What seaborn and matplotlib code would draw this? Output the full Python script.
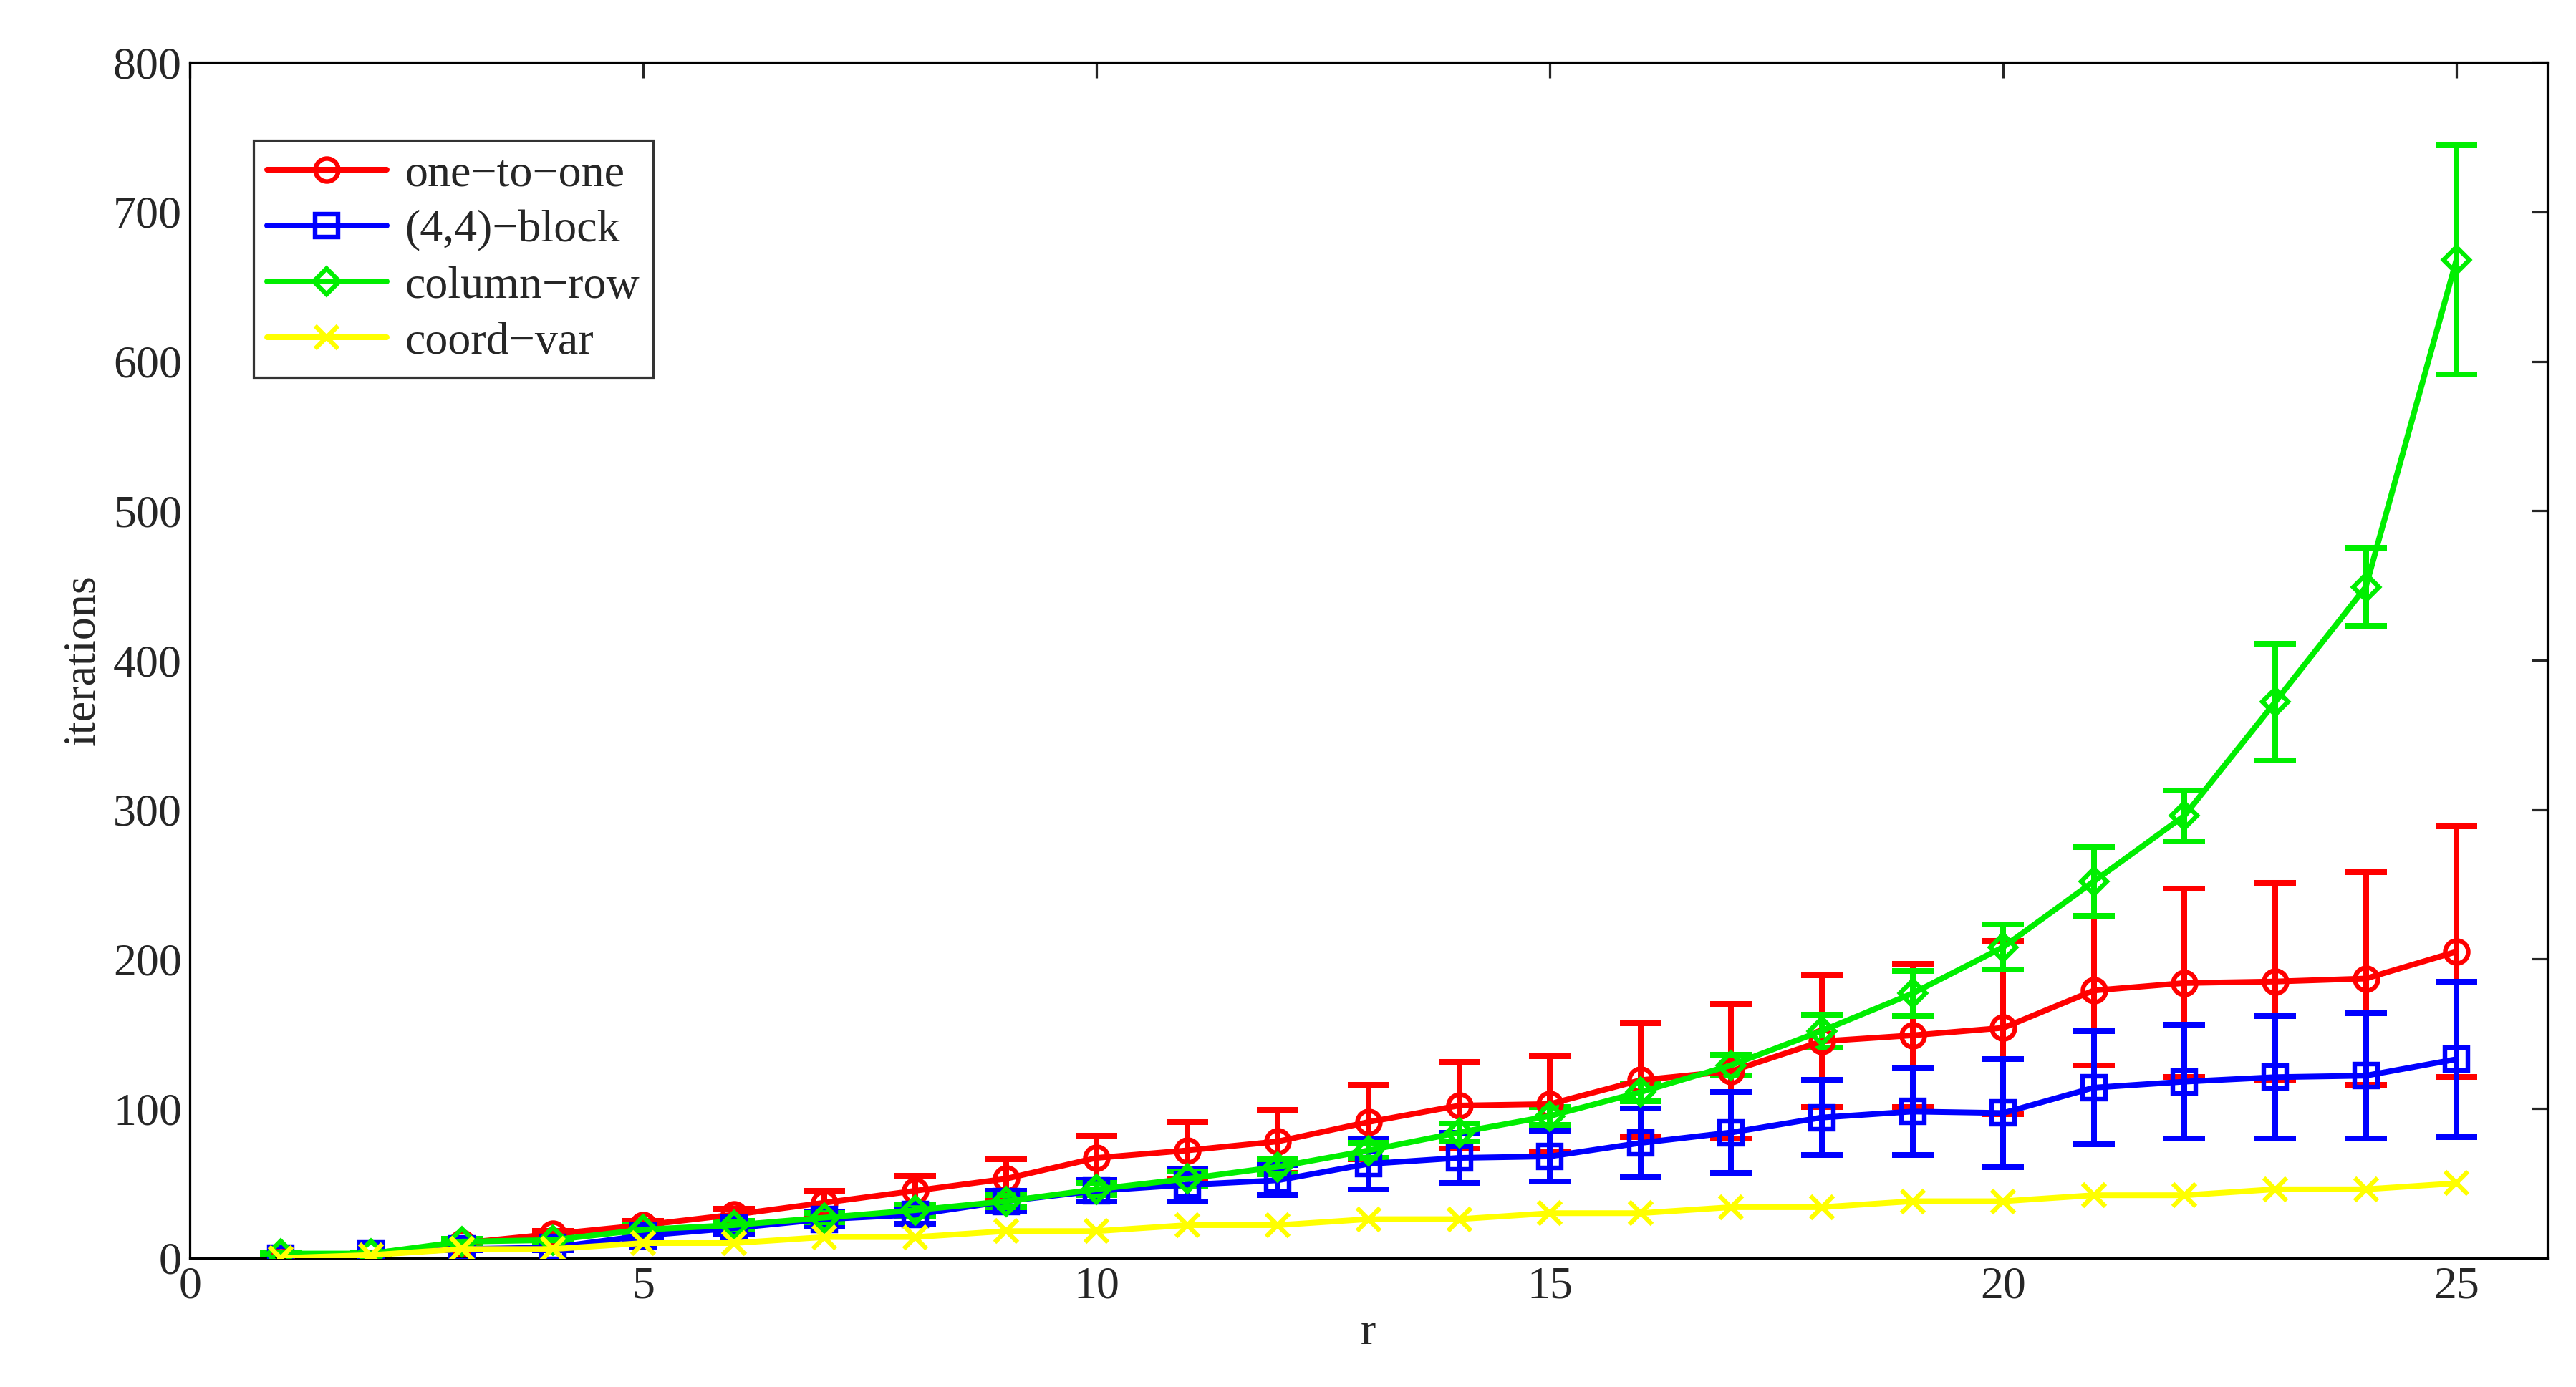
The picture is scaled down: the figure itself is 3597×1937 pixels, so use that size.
import matplotlib
matplotlib.use("Agg")
import matplotlib.pyplot as plt
import seaborn as sns
import numpy as np
import pandas as pd

r = list(range(1, 26))
one_to_one = [0,3,10,16,22,29,37,45,53,67,72,78,91,102,103,119,125,145,149,154,179,184,185,187,205]
one_err = [0,1,2,2,3,4,8,10,13,15,19,21,25,29,32,38,45,44,48,58,50,63,66,71,84]
block = [0,3,6,7,15,20,26,29,38,45,49,52,63,67,68,77,84,94,98,97,114,118,121,122,133]
block_err = [0,1,1,2,3,4,5,6,7,7,11,10,17,17,17,23,27,25,29,36,38,38,41,42,52]
colrow = [3,3,11,12,19,22,27,32,38,46,53,61,72,84,95,111,129,152,177,208,252,296,372,449,668]
colrow_err = [1,1,2,2,3,3,3,4,4,4,5,5,5,6,6,6,7,11,15,15,23,17,39,26,77]
coordvar = [0,2,6,6,10,10,14,14,18,18,22,22,26,26,30,30,34,34,38,38,42,42,46,46,50]

sns.set_style("white")
plt.rcParams['font.family'] = ['Liberation Serif', 'DejaVu Serif']
plt.rcParams['axes.unicode_minus'] = True

fig = plt.figure(figsize=(15.6, 8.4), dpi=230.6)
ax = fig.add_axes([0.0737, 0.093, 0.915, 0.862])

series = [
    ("one\u2212to\u2212one", one_to_one, one_err, "#ff0000", "o"),
    ("(4,4)\u2212block", block, block_err, "#0000ff", "s"),
    ("column\u2212row", colrow, colrow_err, "#00ee00", "D"),
    ("coord\u2212var", coordvar, None, "#ffff00", "x"),
]
for name, vals, err, c, m in series:
    df = pd.DataFrame({"r": r, "v": vals})
    if err is not None:
        ax.errorbar(r, vals, yerr=err, fmt="none", ecolor=c, elinewidth=2.5, capsize=9, capthick=2.5, zorder=2)
    sns.lineplot(data=df, x="r", y="v", ax=ax, color=c, lw=2.5, marker=m,
                 markersize=10 if m != "D" else 8, markerfacecolor="none" if m != "x" else c,
                 markeredgecolor=c, markeredgewidth=2, label=name, zorder=3)

ax.set_xlim(0, 26)
ax.set_ylim(0, 800)
ax.set_xticks([0, 5, 10, 15, 20, 25])
ax.set_yticks(range(0, 801, 100))
ax.set_xlabel("r", fontsize=20, labelpad=2)
ax.set_ylabel("iterations", fontsize=20, labelpad=4)
ax.tick_params(labelsize=20, direction="in", top=True, right=True, length=7, width=1)
for s in ax.spines.values():
    s.set_color("black"); s.set_linewidth(1)
leg = ax.legend(loc="upper left", bbox_to_anchor=(0.027, 0.935), fontsize=20, frameon=True,
                fancybox=False, edgecolor="black", borderpad=0.3, handlelength=2.6,
                handletextpad=0.4, labelspacing=0.3, borderaxespad=0)
leg.get_frame().set_linewidth(1)
fig.savefig("out.png", dpi=230.6)
